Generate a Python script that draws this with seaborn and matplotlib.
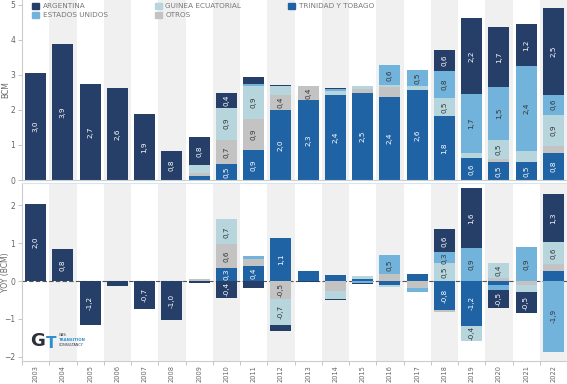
import numpy as np
import pandas as pd
import matplotlib
matplotlib.use('Agg')
import matplotlib.pyplot as plt
import seaborn as sns

years = [str(y) for y in range(2003, 2023)]

# production by supplier (BCM), stacking order bottom -> top
prod_tt = [0, 0, 0, 0, 0, 0, 0.12, 0.46, 0.86, 2.0, 2.27, 2.43, 2.49, 2.36, 2.57, 1.81, 0.64, 0.51, 0.51, 0.77]
prod_otros = [0, 0, 0, 0, 0, 0, 0.08, 0.69, 0.89, 0.43, 0.42, 0, 0.09, 0.29, 0, 0, 0, 0.09, 0, 0.2]
prod_guinea = [0, 0, 0, 0, 0, 0, 0.22, 0.91, 0.93, 0.25, 0, 0.1, 0.11, 0.06, 0.1, 0.54, 0.14, 0.54, 0.31, 0.89]
prod_eeuu = [0, 0, 0, 0, 0, 0, 0, 0, 0.06, 0, 0, 0.05, 0, 0.56, 0.47, 0.77, 1.66, 1.5, 2.43, 0.57]
prod_arg = [3.04, 3.89, 2.74, 2.63, 1.89, 0.84, 0.81, 0.41, 0.2, 0.04, 0, 0.05, 0, 0, 0, 0.59, 2.17, 1.72, 1.2, 2.46]

# year-on-year change (BCM)
yoy_tt = [0, 0, 0, 0, 0, 0, 0, 0.34, 0.4, 1.13, 0.26, 0.16, 0.05, -0.1, 0.18, -0.77, -1.18, -0.1, 0, 0.26]
yoy_otros = [0, 0, 0, 0, 0, 0, 0.05, 0.63, 0.19, -0.48, 0, -0.27, 0, 0.18, -0.19, -0.05, 0, 0.09, -0.1, 0.18]
yoy_guinea = [0, 0, 0, 0, 0, 0, 0, 0.66, 0, -0.68, 0, -0.19, 0.09, -0.05, 0, 0.47, -0.4, 0.4, -0.2, 0.58]
yoy_eeuu = [0, 0, 0, 0, 0, 0, 0, 0, 0.06, 0, 0, 0, -0.05, 0.5, -0.09, 0.29, 0.87, -0.13, 0.9, -1.86]
yoy_arg = [2.03, 0.84, -1.16, -0.13, -0.74, -1.04, -0.05, -0.44, -0.18, -0.15, -0.03, -0.03, -0.03, 0, 0, 0.61, 1.58, -0.47, -0.53, 1.29]

series = ['TRINIDAD Y TOBAGO', 'OTROS', 'GUINEA ECUATORIAL', 'ESTADOS UNIDOS', 'ARGENTINA']
colors = {'TRINIDAD Y TOBAGO': '#2063a4', 'OTROS': '#c3c3c3', 'GUINEA ECUATORIAL': '#b6d5dc',
          'ESTADOS UNIDOS': '#71b3da', 'ARGENTINA': '#253f69'}
txt_col = {'TRINIDAD Y TOBAGO': 'white', 'OTROS': '#333333', 'GUINEA ECUATORIAL': '#333333',
           'ESTADOS UNIDOS': '#333333', 'ARGENTINA': 'white'}

prod = pd.DataFrame({'TRINIDAD Y TOBAGO': prod_tt, 'OTROS': prod_otros, 'GUINEA ECUATORIAL': prod_guinea,
                     'ESTADOS UNIDOS': prod_eeuu, 'ARGENTINA': prod_arg}, index=years)
yoy = pd.DataFrame({'TRINIDAD Y TOBAGO': yoy_tt, 'OTROS': yoy_otros, 'GUINEA ECUATORIAL': yoy_guinea,
                    'ESTADOS UNIDOS': yoy_eeuu, 'ARGENTINA': yoy_arg}, index=years)

sns.set_style('white')
plt.rcParams['font.family'] = ['DejaVu Sans']

fig = plt.figure(figsize=(5.67, 3.84), dpi=100)
ax1 = fig.add_axes([22 / 567, 1 - 180 / 384, 545 / 567, 180 / 384])
ax2 = fig.add_axes([22 / 567, 1 - 361 / 384, 545 / 567, 178 / 384])

BW = 0.77


def stack(ax, df, thresh):
    for sign in (1, -1):
        part = df.clip(lower=0) if sign > 0 else df.clip(upper=0)
        cum = part.cumsum(axis=1)
        # draw tallest cumulative first so smaller ones sit on top
        for s in reversed(series):
            sns.barplot(x=years, y=cum[s].values, color=colors[s], width=BW, saturation=1,
                        errorbar=None, ax=ax, zorder=2, linewidth=0, edgecolor='none')
        base = cum - part
        for s in series:
            for i, y in enumerate(years):
                v = part.loc[y, s]
                if abs(v) >= thresh:
                    ax.text(i, base.loc[y, s] + v / 2, f"{v:.1f}".replace('.', ','),
                            rotation=90, ha='center', va='center', fontsize=5.2,
                            color=txt_col[s], zorder=4)


for ax in (ax1, ax2):
    for i in range(len(years)):
        if i % 2 == 1:
            ax.axvspan(i - 0.5, i + 0.5, color='#f0f0f0', zorder=0, lw=0)

stack(ax1, prod, 0.35)
ax2.axhline(0, color='#555555', lw=0.8, ls=(0, (4, 2)), zorder=1)
stack(ax2, yoy, 0.28)

ax1.set_ylim(0, 5.13)
ax2.set_ylim(-2.11, 2.59)
ax1.set_yticks(range(0, 6))
ax2.set_yticks(range(-2, 3))

for ax in (ax1, ax2):
    ax.set_xlim(-0.5, len(years) - 0.5)
    ax.set_xlabel('')
    for sp in ('top', 'right'):
        ax.spines[sp].set_visible(False)
    for sp in ('left', 'bottom'):
        ax.spines[sp].set_color('#cccccc')
        ax.spines[sp].set_linewidth(0.8)
    ax.tick_params(axis='y', length=3, width=0.6, color='#bbbbbb', labelsize=5.5,
                   labelcolor='#666666', pad=2, left=True)
    ax.grid(False)

ax1.tick_params(axis='x', bottom=False, labelbottom=False)
ax2.spines['top'].set_visible(True)
ax2.spines['top'].set_color('#d3e6f2')
ax2.set_xticks(range(len(years)))
ax2.set_xticklabels(years, rotation=90, fontsize=4.8, color='#666666')
ax2.set_xticks(np.arange(-0.5, len(years), 1), minor=True)
ax2.tick_params(axis='x', which='major', length=0, pad=3)
ax2.tick_params(axis='x', which='minor', length=3, width=0.6, color='#bbbbbb', bottom=True)

ax1.set_ylabel('BCM', fontsize=5.5, color='#666666')
ax2.set_ylabel('YOY (BCM)', fontsize=5.5, color='#666666')
ax1.yaxis.set_label_coords(-12 / 545, 0.5)
ax2.yaxis.set_label_coords(-12 / 545, 0.5)

handles = [plt.Rectangle((0, 0), 1, 1, color=colors[s]) for s in
           ['ARGENTINA', 'ESTADOS UNIDOS', 'GUINEA ECUATORIAL', 'OTROS', 'TRINIDAD Y TOBAGO']]
labels = ['ARGENTINA', 'ESTADOS UNIDOS', 'GUINEA ECUATORIAL', 'OTROS', 'TRINIDAD Y TOBAGO']
leg = ax1.legend(handles, labels, ncol=3, loc='upper left', bbox_to_anchor=(0.01, 1.01),
                 frameon=False, fontsize=5.2, handlelength=1.0, handleheight=1.0,
                 columnspacing=6.5, handletextpad=0.5, labelspacing=0.35, borderaxespad=0.2)
for t in leg.get_texts():
    t.set_color('#777777')

# logo
fig.text(30 / 567, 1 - 341 / 384, 'G', fontsize=13, fontweight='bold', color='#2b2f38', va='center')
fig.text(46 / 567, 1 - 343 / 384, 'T', fontsize=11, fontweight='bold', color='#2e8fd0', va='center')
fig.text(59 / 567, 1 - 335 / 384, 'GAS', fontsize=2.6, color='#2b2f38', va='center')
fig.text(59 / 567, 1 - 340 / 384, 'TRANSITION', fontsize=2.8, fontweight='bold', color='#2e8fd0', va='center')
fig.text(59 / 567, 1 - 345 / 384, 'CONSULTANCY', fontsize=2.4, color='#2b2f38', va='center')

fig.savefig('out.png', dpi=100)
